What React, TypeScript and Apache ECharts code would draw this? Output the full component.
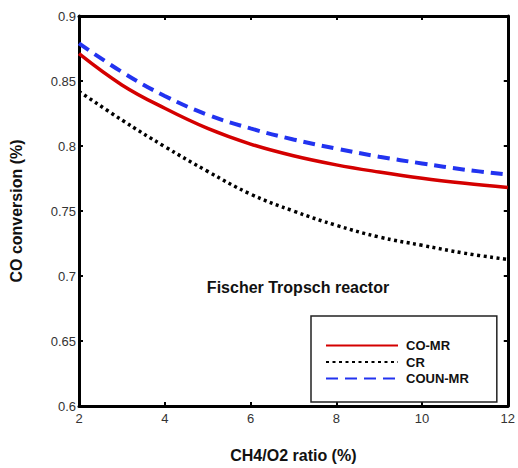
import React, { useEffect, useRef } from "react";
import * as echarts from "echarts";

const xValues = [2, 3, 4, 5, 6, 7, 8, 9, 10, 11, 12];
const coMR = [0.871, 0.847, 0.829, 0.8135, 0.8015, 0.7925, 0.7855, 0.78, 0.7752, 0.7713, 0.768];
const cr = [0.842, 0.82, 0.7995, 0.7805, 0.763, 0.75, 0.739, 0.73, 0.7236, 0.7175, 0.7127];
const counMR = [0.879, 0.857, 0.8385, 0.824, 0.8135, 0.805, 0.798, 0.7918, 0.7866, 0.7818, 0.778];
const seriesNames = ["CO-MR", "CR", "COUN-MR"];

const FONT = "Liberation Sans, Arial, sans-serif";

export default function App() {
  const ref = useRef<HTMLDivElement>(null);
  useEffect(() => {
    if (!ref.current) return;
    const chart = echarts.init(ref.current, undefined, { renderer: "svg" });
    const pair = (ys: number[]) => xValues.map((x, i) => [x, ys[i]]);
    const axisLine = { show: true, lineStyle: { color: "#000", width: 3 } };
    const tick = { show: true, inside: true, length: 4, lineStyle: { color: "#000", width: 2 } };
    chart.setOption({
      animation: false,
      backgroundColor: "#fff",
      grid: { left: 75, right: 8, top: 16, bottom: 57 },
      title: {
        text: "Fischer Tropsch reactor",
        left: 293,
        top: 274,
        textAlign: "center",
        textStyle: { fontFamily: FONT, fontSize: 16, fontWeight: "bold", color: "#111" },
      },
      legend: {
        orient: "vertical",
        left: 311,
        top: 316,
        data: seriesNames,
        backgroundColor: "#fff",
        borderColor: "#222",
        borderWidth: 1.5,
        borderRadius: 0,
        padding: [23, 28, 17, 14],
        itemWidth: 72,
        itemHeight: 14,
        itemGap: 3.5,
        itemStyle: { opacity: 0 },
        textStyle: { fontFamily: FONT, fontSize: 13, fontWeight: "bold", color: "#111", padding: [0, 0, 0, 3] },
      },
      xAxis: [
        {
          type: "value",
          min: 2,
          max: 12,
          interval: 2,
          name: "CH4/O2 ratio (%)",
          nameLocation: "middle",
          nameGap: 41,
          nameTextStyle: { fontFamily: FONT, fontSize: 16, fontWeight: "bold", color: "#111" },
          axisLine,
          axisTick: tick,
          axisLabel: { fontFamily: FONT, fontSize: 13, color: "#333", margin: 6 },
          splitLine: { show: false },
        },
        {
          type: "value",
          position: "top",
          min: 2,
          max: 12,
          interval: 2,
          axisLine,
          axisTick: tick,
          axisLabel: { show: false },
          splitLine: { show: false },
        },
      ],
      yAxis: [
        {
          type: "value",
          min: 0.6,
          max: 0.9,
          interval: 0.05,
          name: "CO conversion (%)",
          nameLocation: "middle",
          nameGap: 55,
          nameTextStyle: { fontFamily: FONT, fontSize: 16, fontWeight: "bold", color: "#111" },
          axisLine,
          axisTick: tick,
          axisLabel: { fontFamily: FONT, fontSize: 13, color: "#333", margin: 3 },
          splitLine: { show: false },
        },
        {
          type: "value",
          position: "right",
          min: 0.6,
          max: 0.9,
          interval: 0.05,
          axisLine,
          axisTick: tick,
          axisLabel: { show: false },
          splitLine: { show: false },
        },
      ],
      series: [
        {
          name: seriesNames[0],
          type: "line",
          smooth: 0.4,
          symbol: "none",
          data: pair(coMR),
          itemStyle: { color: "#d40000" },
          lineStyle: { color: "#d40000", width: 3.5 },
          z: 3,
        },
        {
          name: seriesNames[1],
          type: "line",
          smooth: 0.4,
          symbol: "none",
          data: pair(cr),
          itemStyle: { color: "#000" },
          lineStyle: { color: "#000", width: 3.5, type: [3, 3.5] },
          z: 2,
        },
        {
          name: seriesNames[2],
          type: "line",
          smooth: 0.4,
          symbol: "none",
          data: pair(counMR),
          itemStyle: { color: "#2233f0" },
          lineStyle: { color: "#2233f0", width: 4, type: [12, 7] },
          z: 4,
        },
      ],
    });
    return () => chart.dispose();
  }, []);
  return (
    <div
      ref={ref}
      style={{ position: "fixed", left: 0, top: 0, width: 518, height: 468 }}
    />
  );
}
